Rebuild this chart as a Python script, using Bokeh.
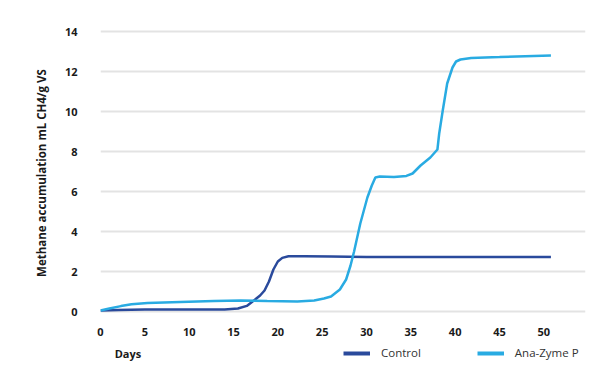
from bokeh.plotting import figure
from bokeh.layouts import column
from bokeh.models import Range1d, FixedTicker, Legend, LegendItem, Label
from bokeh.embed import file_html
from bokeh.resources import INLINE

# ---- data ----
days_control = [0, 2, 5, 10, 14, 15.5, 16.5, 17.3, 18, 18.5, 19, 19.5, 20, 20.5, 21.2, 23, 26, 30, 40, 50.8]
control = [0.05, 0.08, 0.1, 0.1, 0.1, 0.15, 0.28, 0.55, 0.8, 1.05, 1.5, 2.1, 2.5, 2.68, 2.76, 2.76, 2.75, 2.73, 2.72, 2.72]

days_ana = [0, 1, 2.3, 3.5, 5.3, 9, 12.8, 15.8, 18.8, 22.2, 24.1, 25.2, 26, 27, 27.7, 28.2, 28.6, 29.3,
            30.1, 30.6, 31.0, 31.5, 33.1, 34.5, 35.2, 36.1, 37.2, 38.0, 38.2, 38.6, 39.1, 39.7, 40.1,
            40.6, 41.8, 45, 50.8]
ana = [0.05, 0.15, 0.27, 0.36, 0.42, 0.47, 0.52, 0.55, 0.52, 0.5, 0.55, 0.65, 0.75, 1.1, 1.6, 2.3, 3.0, 4.4,
       5.7, 6.3, 6.7, 6.75, 6.72, 6.78, 6.9, 7.3, 7.7, 8.1, 8.9, 10.05, 11.4, 12.2, 12.5,
       12.6, 12.68, 12.72, 12.8]

x_ticks = [0, 5, 10, 15, 20, 25, 30, 35, 40, 45, 50]
y_ticks = [0, 2, 4, 6, 8, 10, 12, 14]
series_names = ["Control", "Ana-Zyme P"]
x_title = "Days"
y_title = "Methane accumulation  mL CH4/g VS"

DARK = "#2a4a9c"
LIGHT = "#29abe2"
FONT = "Open Sans"
NAN = float("nan")

p = figure(width=592, height=339, output_backend="svg", toolbar_location=None,
           x_range=Range1d(0, 54.7), y_range=Range1d(-0.3, 14.3),
           min_border_left=100, min_border_right=7, min_border_top=25, min_border_bottom=22)
p.outline_line_color = None
p.background_fill_color = "white"

p.xgrid.grid_line_color = None
p.ygrid.grid_line_color = "#e3e3e3"
p.ygrid.grid_line_width = 2
p.ygrid.ticker = FixedTicker(ticks=y_ticks)

for ax in (p.xaxis[0], p.yaxis[0]):
    ax.axis_line_color = None
    ax.major_tick_line_color = None
    ax.minor_tick_line_color = None
    ax.major_label_text_font = FONT
    ax.major_label_text_font_style = "bold"
    ax.major_label_text_font_size = "11px"
    ax.major_label_text_color = "#1a1a1a"

p.xaxis.ticker = FixedTicker(ticks=x_ticks)
p.yaxis.ticker = FixedTicker(ticks=y_ticks)
p.xaxis.major_label_standoff = 4
p.yaxis.major_label_standoff = 17

p.yaxis.axis_label = y_title
p.yaxis.axis_label_text_font = FONT
p.yaxis.axis_label_text_font_style = "bold"
p.yaxis.axis_label_text_font_size = "11.5px"
p.yaxis.axis_label_text_color = "#1a1a1a"
p.yaxis.axis_label_standoff = 13

p.line(days_control, control, line_color=DARK, line_width=2.5)
p.line(days_ana, ana, line_color=LIGHT, line_width=2.5)

# ---- bottom strip: x title + legend ----
p2 = figure(width=592, height=27, output_backend="svg", toolbar_location=None,
            x_range=p.x_range, y_range=Range1d(0, 1), x_axis_type=None, y_axis_type=None,
            min_border_left=100, min_border_right=7, min_border_top=0, min_border_bottom=0)
p2.outline_line_color = None
p2.grid.grid_line_color = None

r1 = p2.line([NAN], [NAN], line_color=DARK, line_width=4)
r2 = p2.line([NAN], [NAN], line_color=LIGHT, line_width=4)
legend = Legend(items=[LegendItem(label=series_names[0], renderers=[r1]),
                       LegendItem(label=series_names[1], renderers=[r2])],
                orientation="horizontal", location=(243, 6),
                padding=0, margin=0, spacing=56, glyph_width=27, glyph_height=14,
                label_standoff=11, border_line_color=None, background_fill_alpha=0,
                label_text_font=FONT, label_text_font_size="11.5px", label_text_color="#333333")
p2.add_layout(legend, "center")

p2.add_layout(Label(x=1.6, y=0.5, text=x_title, text_font=FONT, text_font_style="bold",
                    text_font_size="11px", text_color="#1a1a1a", text_baseline="middle"))

open("out.html", "w").write(file_html(column(p, p2, spacing=0), INLINE))
